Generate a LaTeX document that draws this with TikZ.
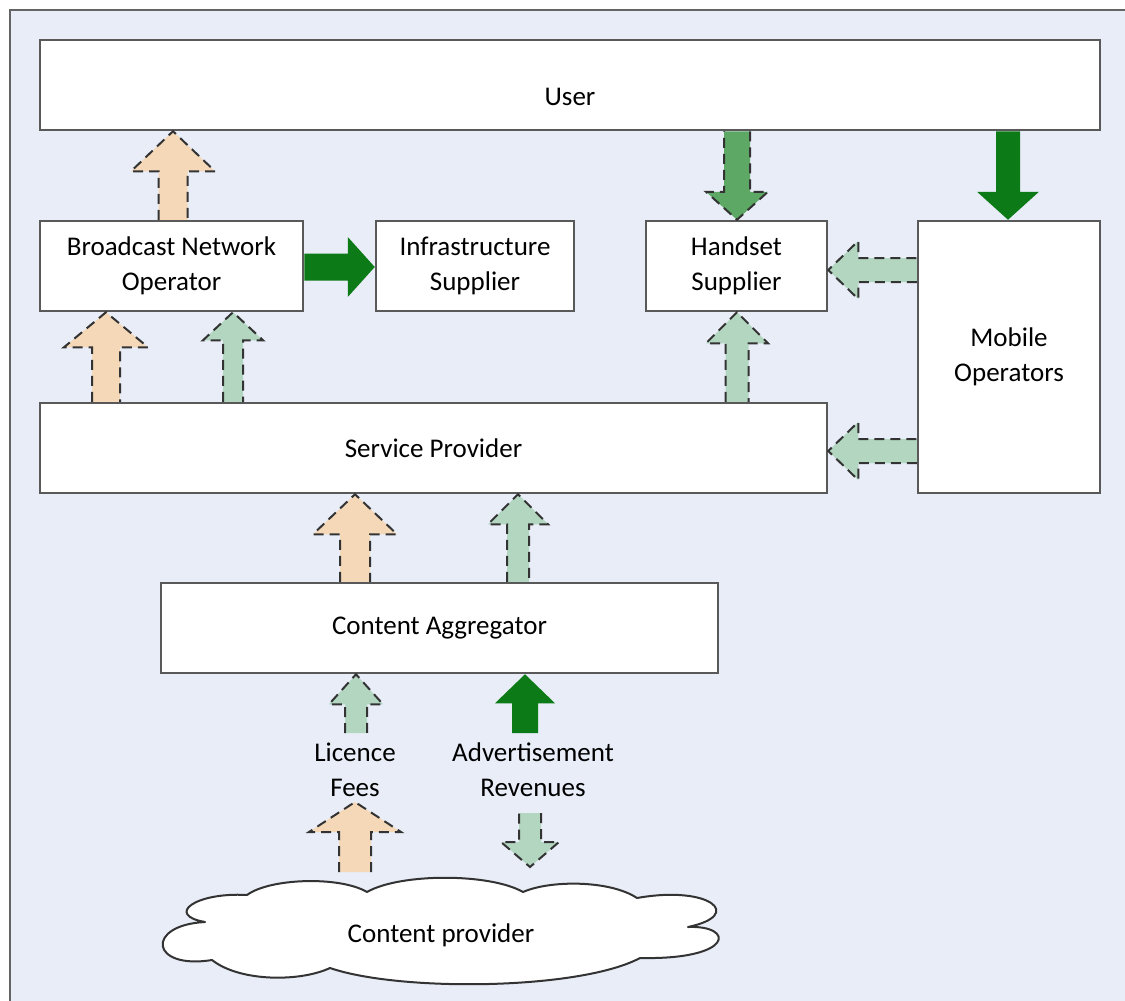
\documentclass[tikz,border=0pt]{standalone}
\usepackage{fontspec}
\setmainfont{Carlito}
\usetikzlibrary{calc}
\definecolor{bgc}{RGB}{232,237,248}
\definecolor{tanc}{RGB}{244,216,184}
\definecolor{lgc}{RGB}{178,214,192}
\definecolor{mgc}{RGB}{92,168,100}
\definecolor{dgc}{RGB}{12,122,22}
\definecolor{framec}{RGB}{100,100,100}
\newcommand\blockarr[7]{%
 \coordinate (ba-s) at (#3); \coordinate (ba-e) at (#4);
 \coordinate (ba-h) at ($(ba-e)!#7!(ba-s)$);
 \fill[#1] ($(ba-s)!#5!90:(ba-e)$) -- ($(ba-h)!#5!90:(ba-e)$) -- ($(ba-h)!#6!90:(ba-e)$) -- (ba-e) -- ($(ba-h)!#6!-90:(ba-e)$) -- ($(ba-h)!#5!-90:(ba-e)$) -- ($(ba-s)!#5!-90:(ba-e)$) -- cycle;
 \draw[#2] ($(ba-s)!#5!90:(ba-e)$) -- ($(ba-h)!#5!90:(ba-e)$) -- ($(ba-h)!#6!90:(ba-e)$) -- (ba-e) -- ($(ba-h)!#6!-90:(ba-e)$) -- ($(ba-h)!#5!-90:(ba-e)$) -- ($(ba-s)!#5!-90:(ba-e)$);}
\tikzset{
 box/.style={draw=black!65, line width=2.5pt, fill=white, inner sep=0pt, align=center},
 dashline/.style={draw=black!80, line width=2pt, dash pattern=on 10pt off 6pt, line join=miter},
 noline/.style={draw=none},
 lbl/.style={align=center, inner sep=0pt}
}
\begin{document}
\begin{tikzpicture}[x=1pt, y=-1pt, font=\fontsize{27}{35}\selectfont]
\useasboundingbox (0,0) rectangle (1125,1001);
\fill[white] (0,0) rectangle (1125,1001);
\fill[bgc] (10,10) rectangle (1135,1010);
\draw[framec, line width=2pt] (10,1010) -- (10,10) -- (1135,10);

\node[box, minimum width=1060pt, minimum height=90pt] (user) at (570,85) {};
\node[lbl] (usert) at (570,97) {User};
\node[box, minimum width=263pt, minimum height=90pt] (bno) at (171.5,266) {Broadcast Network\\Operator};
\node[box, minimum width=198pt, minimum height=90pt] (infra) at (475,266) {Infrastructure\\Supplier};
\node[box, minimum width=181pt, minimum height=90pt] (hand) at (736.5,266) {Handset\\Supplier};
\node[box, minimum width=182pt, minimum height=272pt] (mob) at (1009,357) {Mobile\\Operators};
\node[box, minimum width=787pt, minimum height=90pt] (sp) at (433.5,448) {Service Provider};
\node[box, minimum width=557pt, minimum height=90pt] (ca) at (439.5,628) {Content Aggregator};

% cloud
\draw[draw=black!80, line width=2pt, fill=white, line join=round]
  (205,922) .. controls (165,915) and (195,892) .. (247,895)
  .. controls (270,878) and (340,876) .. (367,892)
  .. controls (400,873) and (490,873) .. (523,892)
  .. controls (550,880) and (610,880) .. (637,898)
  .. controls (710,885) and (745,915) .. (688,927)
  .. controls (735,925) and (735,960) .. (640,958)
  .. controls (580,990) and (400,992) .. (330,968)
  .. controls (300,982) and (240,982) .. (212,960)
  .. controls (150,970) and (145,925) .. (205,922) -- cycle;
\node[lbl] (cp) at (441,935) {Content provider};
\node[lbl] (lic) at (355,770) {Licence\\Fees};
\node[lbl] (adv) at (533,770) {Advertisement\\Revenues};

% BNO -> User
\blockarr{tanc}{dashline}{[xshift=1.5pt]bno.north}{ba-s |- user.south}{14.5pt}{42pt}{40pt}
% SP -> BNO
\blockarr{tanc}{dashline}{[xshift=-65.5pt]bno.south |- sp.north}{ba-s |- bno.south}{14pt}{42pt}{35pt}
\blockarr{lgc}{dashline}{[xshift=61.5pt]bno.south |- sp.north}{ba-s |- bno.south}{10pt}{30pt}{28pt}
% BNO -> Infra
\blockarr{dgc}{noline}{[yshift=-1pt]bno.east}{ba-s -| infra.west}{13.5pt}{30pt}{27pt}
% User -> Handset, User -> Mobile
\blockarr{mgc}{dashline}{[xshift=0.5pt]hand.north |- user.south}{ba-s |- hand.north}{13pt}{31pt}{28pt}
\blockarr{dgc}{noline}{[xshift=-1pt]mob.north |- user.south}{ba-s |- mob.north}{12pt}{31pt}{28pt}
% Mobile -> Handset, Mobile -> SP
\blockarr{lgc}{dashline}{[yshift=-4pt]hand.east -| mob.west}{ba-s -| hand.east}{12pt}{29pt}{30pt}
\blockarr{lgc}{dashline}{[yshift=-3pt]sp.east -| mob.west}{ba-s -| sp.east}{12pt}{29pt}{30pt}
% SP -> Handset
\blockarr{lgc}{dashline}{[xshift=0.5pt]hand.south |- sp.north}{ba-s |- hand.south}{11.5pt}{31pt}{31pt}
% CA -> SP
\blockarr{tanc}{dashline}{[xshift=-84.5pt]ca.north}{ba-s |- sp.south}{15pt}{42pt}{40pt}
\blockarr{lgc}{dashline}{[xshift=78.5pt]ca.north}{ba-s |- sp.south}{11pt}{30pt}{30pt}
% Licence / Advertisement -> CA
\coordinate (licup) at (356,733);
\blockarr{lgc}{dashline}{licup}{licup |- ca.south}{11pt}{27pt}{30pt}
\coordinate (advup) at (525,733);
\blockarr{dgc}{noline}{advup}{advup |- ca.south}{13pt}{30pt}{29pt}
% Content provider -> Licence fees
\coordinate (cpup) at (355,802);
\coordinate (cpbase) at (355,872);
\blockarr{tanc}{dashline}{cpbase}{cpup}{16pt}{46pt}{30pt}
% Advertisement revenues -> Content provider
\coordinate (advdn) at (530,813);
\coordinate (advdnt) at (530,867);
\blockarr{lgc}{dashline}{advdn}{advdnt}{11pt}{29pt}{25pt}
\end{tikzpicture}
\end{document}
